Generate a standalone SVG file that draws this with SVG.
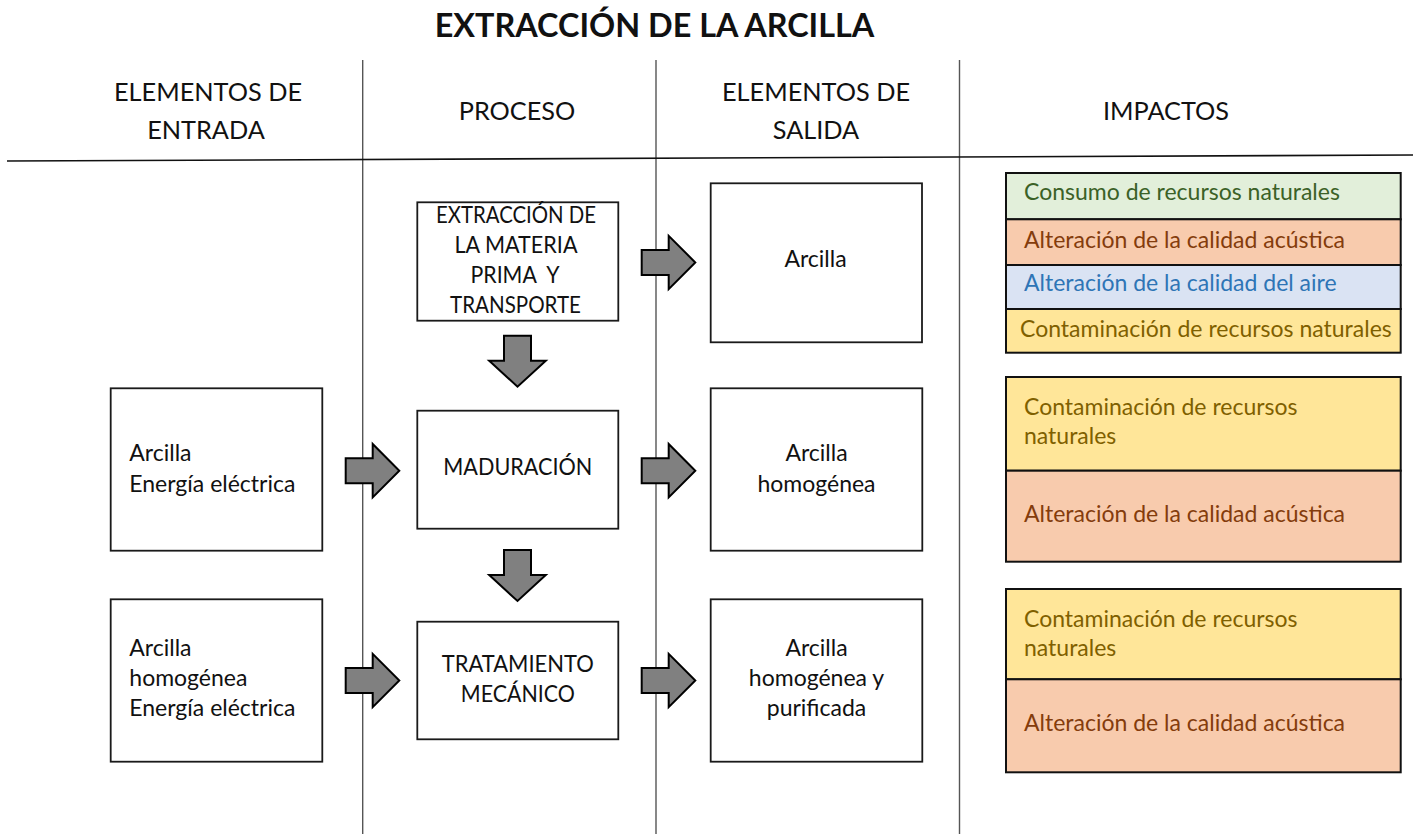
<svg xmlns="http://www.w3.org/2000/svg" width="1420" height="834" viewBox="0 0 1420 834">
<style>
text{font-family:Lato,"Liberation Sans",sans-serif;fill:#111;}
.title{font-size:32.4px;font-weight:bold;text-anchor:middle;}
.hdr{font-size:25.3px;text-anchor:middle;}
.t{font-size:23px;}
.p{font-size:23px;}
.c{text-anchor:middle;}
.box{fill:#fff;stroke:#1a1a1a;stroke-width:1.8;}
.ibox{stroke:#111;stroke-width:2;}
.arrow{fill:#808080;stroke:#000;stroke-width:2;stroke-linejoin:miter;}
.vline{stroke:#555;stroke-width:1.4;}
.green{fill:#e2efda;} .orange{fill:#f8cbad;} .blue{fill:#dae3f3;} .yellow{fill:#ffe699;}
.tg{fill:#3b6127;} .to{fill:#843c0c;} .tb{fill:#2e75b6;} .ty{fill:#7f6000;}
</style>
<defs>
<path id="ra" d="M0,-12.5 H27 V-26.7 L53.6,0 L27,26.7 V12.5 H0 Z"/>
<path id="da" d="M-13.5,0 H13.5 V25 H28.3 L0,51 L-28.3,25 H-13.5 Z"/>
</defs>
<rect width="1420" height="834" fill="#fff"/>

<g id="header">
<text class="title" x="654.5" y="36.5">EXTRACCIÓN DE LA ARCILLA</text>
<text class="hdr" x="208" y="100.5">ELEMENTOS DE</text>
<text class="hdr" x="206" y="138.5">ENTRADA</text>
<text class="hdr" x="517" y="120">PROCESO</text>
<text class="hdr" x="816" y="100.5">ELEMENTOS DE</text>
<text class="hdr" x="816" y="138.5">SALIDA</text>
<text class="hdr" x="1166" y="120">IMPACTOS</text>
</g>

<g id="grid">
<line class="vline" x1="362.7" y1="60" x2="362.7" y2="834"/>
<line class="vline" x1="656" y1="60" x2="656" y2="834"/>
<line class="vline" x1="959.5" y1="60" x2="959.5" y2="834"/>
<line x1="7" y1="161" x2="1413" y2="155" stroke="#111" stroke-width="1.6"/>
</g>

<g id="in2">
<rect class="box" x="110.7" y="388.3" width="211.6" height="162.4"/>
<text class="t" x="129.3" y="460.7">Arcilla</text>
<text class="t" x="129.3" y="491.7">Energía eléctrica</text>
</g>
<g id="in3">
<rect class="box" x="110.7" y="599.3" width="211.6" height="162.4"/>
<text class="t" x="129.3" y="656">Arcilla</text>
<text class="t" x="129.3" y="686">homogénea</text>
<text class="t" x="129.3" y="716">Energía eléctrica</text>
</g>

<g id="proc1">
<rect class="box" x="417.3" y="202.3" width="201" height="118.4"/>
<text class="p c" x="516" y="222.7" textLength="160" lengthAdjust="spacingAndGlyphs">EXTRACCIÓN DE</text>
<text class="p c" x="516" y="252.7" textLength="123" lengthAdjust="spacingAndGlyphs">LA MATERIA</text>
<text class="p c" x="515" y="282.7" xml:space="preserve" textLength="89" lengthAdjust="spacingAndGlyphs">PRIMA  Y</text>
<text class="p c" x="515.5" y="313" textLength="131" lengthAdjust="spacingAndGlyphs">TRANSPORTE</text>
</g>
<g id="proc2">
<rect class="box" x="417.3" y="410.7" width="201" height="118"/>
<text class="p c" x="517.8" y="475" textLength="149" lengthAdjust="spacingAndGlyphs">MADURACIÓN</text>
</g>
<g id="proc3">
<rect class="box" x="417.3" y="621.7" width="201" height="117.6"/>
<text class="p c" x="517.8" y="671.7" textLength="152" lengthAdjust="spacingAndGlyphs">TRATAMIENTO</text>
<text class="p c" x="517.8" y="701.7" textLength="114" lengthAdjust="spacingAndGlyphs">MECÁNICO</text>
</g>

<g id="out1">
<rect class="box" x="710.7" y="183.3" width="211.3" height="159"/>
<text class="t c" x="815.5" y="267.3">Arcilla</text>
</g>
<g id="out2">
<rect class="box" x="710.7" y="388.3" width="211.6" height="162.4"/>
<text class="t c" x="816.5" y="460.7">Arcilla</text>
<text class="t c" x="816.5" y="491.7">homogénea</text>
</g>
<g id="out3">
<rect class="box" x="710.7" y="599.3" width="211.6" height="162.4"/>
<text class="t c" x="816.5" y="656">Arcilla</text>
<text class="t c" x="816.5" y="686">homogénea y</text>
<text class="t c" x="816.5" y="716">purificada</text>
</g>

<g id="imp1">
<rect class="ibox green" x="1006" y="173" width="394.7" height="46.3"/>
<rect class="ibox orange" x="1006" y="219.3" width="394.7" height="45.7"/>
<rect class="ibox blue" x="1006" y="265" width="394.7" height="44"/>
<rect class="ibox yellow" x="1006" y="309" width="394.7" height="43.7"/>
<text class="t tg" x="1024" y="200">Consumo de recursos naturales</text>
<text class="t to" x="1024" y="248.3">Alteración de la calidad acústica</text>
<text class="t tb" x="1024" y="290.7">Alteración de la calidad del aire</text>
<text class="t ty" x="1020" y="336.7">Contaminación de recursos naturales</text>
</g>
<g id="imp2">
<rect class="ibox yellow" x="1006" y="377" width="394.7" height="93.7"/>
<rect class="ibox orange" x="1006" y="470.7" width="394.7" height="91"/>
<text class="t ty" x="1024" y="415">Contaminación de recursos</text>
<text class="t ty" x="1024" y="444">naturales</text>
<text class="t to" x="1024" y="521.7">Alteración de la calidad acústica</text>
</g>
<g id="imp3">
<rect class="ibox yellow" x="1006" y="589" width="394.7" height="90.3"/>
<rect class="ibox orange" x="1006" y="679.3" width="394.7" height="93"/>
<text class="t ty" x="1024" y="627">Contaminación de recursos</text>
<text class="t ty" x="1024" y="656">naturales</text>
<text class="t to" x="1024" y="731">Alteración de la calidad acústica</text>
</g>

<g id="connectors">
<use href="#ra" class="arrow" transform="translate(345.7,470.7)"/>
<use href="#ra" class="arrow" transform="translate(345.7,680.5)"/>
<use href="#ra" class="arrow" transform="translate(641.7,262.5)"/>
<use href="#ra" class="arrow" transform="translate(641.7,470.7)"/>
<use href="#ra" class="arrow" transform="translate(641.7,680.5)"/>
<use href="#da" class="arrow" transform="translate(517.5,335.7)"/>
<use href="#da" class="arrow" transform="translate(517.5,550)"/>
</g>
</svg>
